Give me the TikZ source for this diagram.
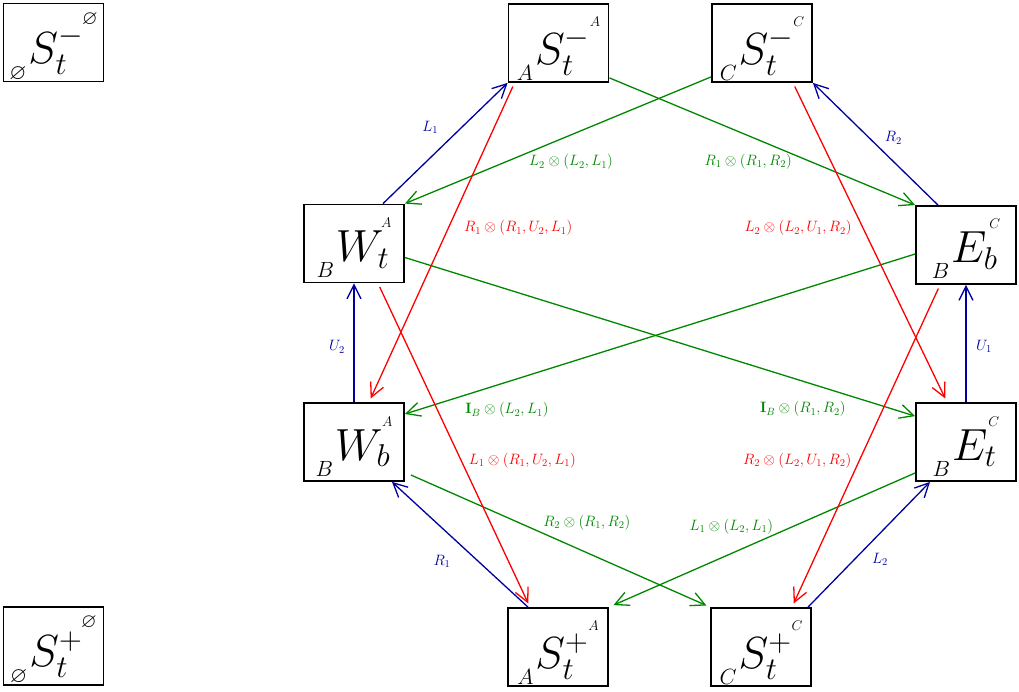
\RequirePackage{fix-cm}
\documentclass[tikz,border=0pt]{standalone}
\usepackage{amssymb}
\usetikzlibrary{arrows.meta}
\definecolor{eblue}{RGB}{0,0,160}
\definecolor{egreen}{RGB}{0,135,0}
\definecolor{ered}{RGB}{255,0,0}
\newcommand\prs[1]{\raisebox{-16pt}{\fontsize{22}{22}\selectfont$#1$}\kern2pt}
\newcommand\osup[3]{\raisebox{#2}{\fontsize{#1}{#1}\selectfont$#3$}}
\newcommand\Snode[3]{\rule{0pt}{59pt}\prs{#1}$S_t^{#2}$\osup{14}{38pt}{#3}}
\newcommand\SnodeE[1]{\rule{0pt}{59pt}\prs{\varnothing}$S_t^{#1}$\kern-1pt\osup{20}{39pt}{\varnothing}}
\newcommand\Wnode[4]{\rule{0pt}{52pt}\prs{#1}$#2_{#3}$\kern-8pt\osup{14}{34pt}{#4}}
\begin{document}
\begin{tikzpicture}[x=1pt,y=-1pt,
  box/.style={draw, line width=1.8pt, minimum width=100pt, minimum height=78pt, inner sep=0pt, font=\fontsize{45}{50}\selectfont},
  ar/.style={line width=1.3pt, -{Straight Barb[length=14pt,width=14pt]}},
  bl/.style={ar, eblue},
  gr/.style={ar, egreen},
  rd/.style={ar, ered, shorten <=4pt, shorten >=4pt},
  lb/.style={font=\fontsize{15}{17}\selectfont}]
\useasboundingbox (0,0) rectangle (1019,692);
% nodes
\node[box] (Sm0) at (53.5,42.5) {\SnodeE{-}};
\node[box] (SmA) at (558.5,43) {\Snode{A}{-}{A}};
\node[box] (SmC) at (762,43) {\Snode{C}{-}{C}};
\node[box] (Wt) at (354,243.5) {\Wnode{B}{W}{t}{A}};
\node[box] (Eb) at (966,245) {\Wnode{B}{E}{b}{C}};
\node[box] (Wb) at (354,442) {\Wnode{B}{W}{b}{A}};
\node[box] (Et) at (966,442) {\Wnode{B}{E}{t}{C}};
\node[box] (Sp0) at (53.5,646) {\SnodeE{+}};
\node[box] (SpA) at (558,647) {\Snode{A}{+}{A}};
\node[box] (SpC) at (761,647) {\Snode{C}{+}{C}};
% blue
\draw[bl] ([xshift=29pt]Wt.north) -- (SmA.south west) node[lb, eblue, midway, xshift=-15pt, yshift=16pt] {$L_1$};
\draw[bl] ([xshift=-28pt]Eb.north) -- (SmC.south east) node[lb, eblue, midway, xshift=18pt, yshift=6pt] {$R_2$};
\draw[bl] (Wb.north) -- (Wt.south) node[lb, eblue, midway, xshift=-17pt, yshift=-4pt] {$U_2$};
\draw[bl] (Et.north) -- (Eb.south) node[lb, eblue, midway, xshift=18pt, yshift=-3pt] {$U_1$};
\draw[bl] ([xshift=-30pt]SpA.north) -- ([xshift=38pt]Wb.south) node[lb, eblue, midway, xshift=-18pt, yshift=-17pt] {$R_1$};
\draw[bl] ([xshift=47pt]SpC.north) -- ([xshift=-36pt]Et.south) node[lb, eblue, midway, xshift=11pt, yshift=-15pt] {$L_2$};
% green
\draw[gr] ([yshift=5pt]SmA.south east) -- (Eb.north west) node[lb, egreen, midway, xshift=-14pt, yshift=-20pt] {$R_1\otimes(R_1,R_2)$};
\draw[gr] ([yshift=6pt]SmC.south west) -- (Wt.north east) node[lb, egreen, midway, xshift=13pt, yshift=-22pt] {$L_2\otimes(L_2,L_1)$};
\draw[gr] ([yshift=-14pt]Wt.east) -- ([yshift=-14pt]Et.north west) node[lb, egreen, pos=0.78, yshift=-28pt] {$\mathbf{I}_B\otimes(R_1,R_2)$};
\draw[gr] ([yshift=-9pt]Eb.west) -- ([yshift=28pt]Wb.east) node[lb, egreen, pos=0.8, yshift=-28pt] {$\mathbf{I}_B\otimes(L_2,L_1)$};
\draw[gr, shorten >=4pt] ([xshift=6pt,yshift=-33pt]Wb.east) -- (SpC.north west) node[lb, egreen, pos=0.588, yshift=30pt] {$R_2\otimes(R_1,R_2)$};
\draw[gr, shorten >=5pt] ([yshift=-31pt]Et.west) -- (SpA.north east) node[lb, egreen, pos=0.6, yshift=27pt] {$L_1\otimes(L_2,L_1)$};
% red
\draw[rd] ([xshift=-44pt]SmA.south) -- ([xshift=15pt]Wb.north) node[lb, ered, pos=0.455, xshift=70pt] {$R_1\otimes(R_1,U_2,L_1)$};
\draw[rd] ([xshift=31pt]SmC.south) -- ([xshift=-19pt]Et.north) node[lb, ered, pos=0.455, xshift=-65pt] {$L_2\otimes(L_2,U_1,R_2)$};
\draw[rd] ([xshift=24pt]Wt.south) -- ([xshift=-28pt]SpA.north) node[lb, ered, pos=0.548, xshift=61pt] {$L_1\otimes(R_1,U_2,L_1)$};
\draw[rd] ([xshift=-26pt]Eb.south) -- ([xshift=31pt]SpC.north) node[lb, ered, pos=0.546, xshift=-62pt] {$R_2\otimes(L_2,U_1,R_2)$};
\end{tikzpicture}
\end{document}
